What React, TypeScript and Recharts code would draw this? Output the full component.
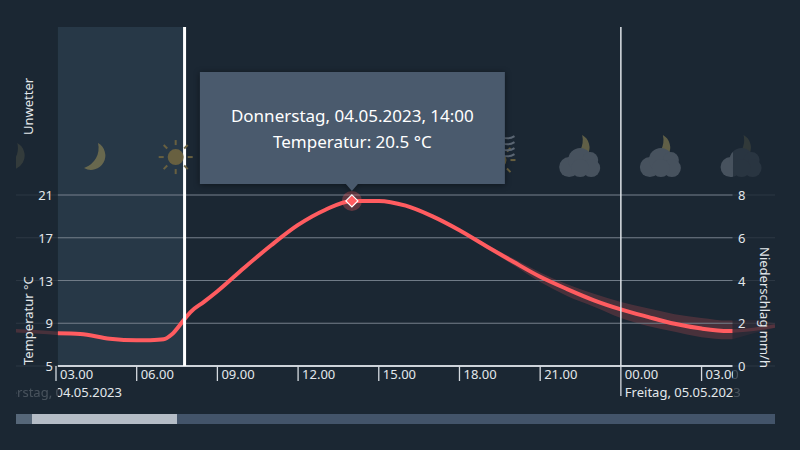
import React from 'react';
import { ComposedChart, Line, Area, Scatter, XAxis, YAxis, ReferenceLine, ReferenceArea, ReferenceDot } from 'recharts';

// hours since midnight of the 04.05.
const hours = [1.51, 2, 3, 3.07, 3.9, 5, 6, 6.5, 7, 7.3, 7.75, 8, 8.5, 9, 10, 11, 12, 13, 14, 15, 16, 17, 18, 19, 20, 21, 22, 23, 24, 25, 26, 27, 28, 28.15, 29, 29.73];
const temperature = [8.3, 8.25, 8.07, 8.06, 8.0, 7.55, 7.4, 7.42, 7.5, 7.95, 9.3, 10.05, 11, 12, 14.2, 16.3, 18.2, 19.6, 20.45, 20.45, 20, 19, 17.7, 16.2, 14.75, 13.35, 12.2, 11.15, 10.3, 9.6, 8.95, 8.5, 8.27, 8.27, 8.45, 8.75];
const bandHigh = [null, null, null, null, null, null, null, null, null, null, null, null, null, null, null, null, null, null, null, null, 20, 19.05, 17.8, 16.4, 15.05, 13.75, 12.65, 11.75, 11, 10.4, 9.85, 9.5, 9.25, 9.25, 9.3, 9.0];
const bandLow = [null, null, null, null, null, null, null, null, null, null, null, null, null, null, null, null, null, null, null, null, 20, 18.95, 17.6, 16, 14.45, 12.85, 11.55, 10.55, 9.5, 8.75, 8.2, 7.7, 7.5, 7.5, 8.1, 8.55];
// no precipitation in this window
const rain = [0, 0, 0, 0, 0, 0, 0, 0, 0, 0, 0, 0, 0, 0, 0, 0, 0, 0, 0, 0, 0, 0, 0, 0, 0, 0, 0, 0, 0, 0, 0, 0, 0, 0, 0, 0];

const hourTicks = [0, 3, 6, 9, 12, 15, 18, 21, 24, 27];
const dateLabels: Record<number, string> = { 0: 'Donnerstag, 04.05.2023', 24: 'Freitag, 05.05.2023' };
const tempTicks = [5, 9, 13, 17, 21];
const rainTicks = [0, 2, 4, 6, 8];

const iconHours = [1.45, 4.45, 7.45, 10.45, 13.45, 16.45, 19.45, 22.45, 25.45, 28.45];
const iconKinds = ['moon', 'moon', 'sun', 'sun', 'sun', 'fog', 'fog', 'cloudMoon', 'cloudMoon', 'cloudMoon'];
const iconLevel = 24.55;

const viewStart = 3.07;
const viewEnd = 28.15;
const nowHour = 7.78;
const midnight = 24;
const pickedHour = 14;
const pickedTemp = 20.45;

const BG = '#1b2733';
const RED = '#ff5c60';
const FONT = '"Noto Sans", sans-serif';

const inView = (h: number) => h >= viewStart && h <= viewEnd;
const outView = (h: number) => h <= viewStart || h >= viewEnd;

const chartData = hours.map((h, i) => {
  const band = bandLow[i] === null ? null : [bandLow[i], bandHigh[i]];
  return {
    hour: h,
    rain: rain[i],
    temp: inView(h) ? temperature[i] : null,
    sideTemp: outView(h) ? temperature[i] : null,
    band: inView(h) ? band : null,
    sideBand: outView(h) ? band : null,
  };
});

const iconData = iconHours.map((h, i) => ({ hour: h, level: iconLevel, kind: iconKinds[i] }));

const moonPath = (x: number, y: number, s: number) =>
  `M${x + 2 * s},${y - 14 * s} A${14 * s} ${14 * s} 0 1 1 ${x - 12 * s},${y + 11 * s} A${21 * s} ${21 * s} 0 0 0 ${x + 2 * s},${y - 14 * s} Z`;

const SunGlyph = ({ x, y }: { x: number; y: number }) => (
  <g stroke="#6c6340" strokeWidth={2} fill="#6c6340">
    <circle cx={x} cy={y} r={8} stroke="none" />
    {[0, 45, 90, 135, 180, 225, 270, 315].map((a) => {
      const rad = (a * Math.PI) / 180;
      return <line key={a} x1={x + 12 * Math.cos(rad)} y1={y + 12 * Math.sin(rad)} x2={x + 17 * Math.cos(rad)} y2={y + 17 * Math.sin(rad)} />;
    })}
  </g>
);

const Glyph = ({ kind, x, y }: { kind: string; x: number; y: number }) => {
  if (kind === 'moon') return <path d={moonPath(x + 1, y, 1)} fill="#6c6a4f" />;
  if (kind === 'sun') return <SunGlyph x={x} y={y} />;
  if (kind === 'fog') {
    return (
      <g>
        <SunGlyph x={x} y={y + 3} />
        {[-20, -14, -8, -2].map((d) => (
          <path key={d} d={`M${x + 4},${y + d} q6,3 12,-1`} stroke="#5f6a77" strokeWidth={2} fill="none" />
        ))}
      </g>
    );
  }
  return (
    <g>
      <path d={moonPath(x + 1, y - 8, 1)} fill="#646349" />
      <g fill="#4a5561">
        <circle cx={x - 10} cy={y + 10} r={10} />
        <circle cx={x + 1} cy={y + 3} r={12} />
        <circle cx={x + 11} cy={y + 3} r={8} />
        <circle cx={x + 12} cy={y + 11} r={9} />
        <circle cx={x + 1} cy={y + 11} r={9} />
      </g>
    </g>
  );
};

const WeatherIcon = (props: any) => {
  const { cx, cy, payload } = props;
  return (
    <g>
      <g clipPath="url(#mainClip)" opacity={0.95}>
        <Glyph kind={payload.kind} x={cx} y={cy} />
      </g>
      <g clipPath="url(#sideClip)" opacity={0.3}>
        <Glyph kind={payload.kind} x={cx} y={cy} />
      </g>
    </g>
  );
};

const HourTick = (props: any) => {
  const { x, y, payload } = props;
  const h: number = payload.value;
  const label = `${String(h % 24).padStart(2, '0')}.00`;
  const date = dateLabels[h];
  const texts = (
    <g fill="#e3e7eb" fontFamily={FONT} fontSize={13}>
      <text x={x + 4} y={y + 13}>{label}</text>
      {date && <text x={x + (h === 0 ? 1 : 4)} y={y + 31}>{date}</text>}
    </g>
  );
  return (
    <g>
      <line x1={x} y1={y} x2={x} y2={y + (date ? 30 : 15)} stroke="#d5dae0" strokeWidth={1.3} />
      <g clipPath="url(#mainClip)">{texts}</g>
      <g clipPath="url(#sideClip)" opacity={0.22}>{texts}</g>
    </g>
  );
};

const TempTick = (props: any) => (
  <text x={53} y={props.y + 5} textAnchor="end" fill="#e3e7eb" fontFamily={FONT} fontSize={13}>{props.payload.value}</text>
);

const RainTick = (props: any) => (
  <text x={738} y={props.y + 5} fill="#e3e7eb" fontFamily={FONT} fontSize={13}>{props.payload.value}</text>
);

const PickedPoint = (props: any) => {
  const { cx, cy } = props;
  return (
    <g>
      <circle cx={cx} cy={cy} r={10} fill={RED} fillOpacity={0.3} />
      <path d={`M${cx},${cy - 6} L${cx + 6},${cy} L${cx},${cy + 6} L${cx - 6},${cy} Z`} fill={RED} stroke="#ffffff" strokeWidth={1.2} />
      <g style={{ filter: 'drop-shadow(0 1px 3px rgba(0,0,0,0.45))' }}>
        <path
          d={`M${cx - 152},${cy - 129} h305 v112 h-147 l-6,7 l-6,-7 h-146 Z`}
          fill="#4a5a6d"
        />
      </g>
      <g fill="#ffffff" fontFamily={FONT} fontSize={17} textAnchor="middle">
        <text x={cx + 0.5} y={cy - 79}>Donnerstag, 04.05.2023, 14:00</text>
        <text x={cx + 0.5} y={cy - 53}>Temperatur: 20.5 °C</text>
      </g>
    </g>
  );
};

const TEMP_TOP = 36.72;
const RAIN_TOP = 15.86;

export default function App() {
  return (
    <div style={{ position: 'absolute', left: 0, top: 0, width: 800, height: 450, background: BG, overflow: 'hidden' }}>
      <ComposedChart
        width={800}
        height={450}
        data={chartData}
        margin={{ top: 27, right: 24, bottom: 54, left: 15 }}
        style={{ position: 'absolute', left: 0, top: 0 }}
      >
        <defs>
          <clipPath id="mainClip">
            <rect x={58} y={0} width={675} height={450} />
          </clipPath>
          <clipPath id="sideClip">
            <rect x={16} y={0} width={42} height={450} />
            <rect x={733} y={0} width={42} height={450} />
          </clipPath>
        </defs>

        <XAxis
          dataKey="hour"
          type="number"
          domain={[1.513, 29.73]}
          allowDataOverflow
          ticks={hourTicks}
          interval={0}
          height={30}
          tickSize={0}
          tickMargin={0}
          axisLine={false}
          tickLine={false}
          tick={<HourTick />}
        />
        <YAxis yAxisId="temp" type="number" domain={[5, TEMP_TOP]} ticks={tempTicks} width={1} axisLine={false} tickLine={false} interval={0} tick={<TempTick />} />
        <YAxis yAxisId="rain" orientation="right" type="number" domain={[0, RAIN_TOP]} ticks={rainTicks} width={1} axisLine={false} tickLine={false} interval={0} tick={<RainTick />} />

        <ReferenceArea yAxisId="temp" x1={viewStart} x2={nowHour} y1={5} y2={TEMP_TOP} fill="#273847" fillOpacity={1} stroke="none" />

        {tempTicks.map((t) => (
          <ReferenceLine key={`side${t}`} yAxisId="temp" y={t} stroke="#ffffff" strokeOpacity={0.08} />
        ))}
        {tempTicks.slice(1).map((t) => (
          <ReferenceLine key={`grid${t}`} yAxisId="temp" segment={[{ x: viewStart, y: t }, { x: viewEnd, y: t }]} stroke="#707b87" />
        ))}

        <Scatter yAxisId="temp" data={iconData} dataKey="level" shape={<WeatherIcon />} isAnimationActive={false} />

        <Line yAxisId="rain" dataKey="rain" stroke="none" dot={false} activeDot={false} isAnimationActive={false} />
        <Area yAxisId="temp" dataKey="band" type="monotone" stroke="none" fill={RED} fillOpacity={0.2} dot={false} activeDot={false} isAnimationActive={false} />
        <Area yAxisId="temp" dataKey="sideBand" type="monotone" stroke="none" fill={RED} fillOpacity={0.07} dot={false} activeDot={false} isAnimationActive={false} />
        <Line yAxisId="temp" dataKey="sideTemp" type="monotone" stroke={RED} strokeOpacity={0.2} strokeWidth={3.5} dot={false} activeDot={false} isAnimationActive={false} />
        <Line yAxisId="temp" dataKey="temp" type="monotone" stroke={RED} strokeWidth={4} dot={false} activeDot={false} isAnimationActive={false} />

        <ReferenceLine yAxisId="temp" segment={[{ x: viewStart, y: 5 }, { x: viewEnd, y: 5 }]} stroke="#cdd3da" strokeWidth={2} />
        <ReferenceLine yAxisId="temp" x={nowHour} stroke="#ffffff" strokeWidth={3} />
        <ReferenceLine yAxisId="temp" x={midnight} stroke="#dfe3e8" strokeWidth={1.5} />

        <ReferenceDot yAxisId="temp" x={pickedHour} y={pickedTemp} shape={<PickedPoint />} />
      </ComposedChart>

      <svg width={800} height={450} style={{ position: 'absolute', left: 0, top: 0, pointerEvents: 'none' }}>
        <g fill="#e3e7eb" fontFamily={FONT} fontSize={13}>
          <text transform="translate(33,135) rotate(-90)">Unwetter</text>
          <text transform="translate(33,365) rotate(-90)">Temperatur °C</text>
          <text transform="translate(760,247) rotate(90)">Niederschlag mm/h</text>
        </g>
      </svg>

      {/* scrollbar below the chart */}
      <div style={{ position: 'absolute', left: 16, top: 414, width: 759, height: 10, background: '#43546a' }} />
      <div style={{ position: 'absolute', left: 16, top: 414, width: 16, height: 10, background: '#566779' }} />
      <div style={{ position: 'absolute', left: 32, top: 414, width: 145, height: 10, background: '#b4bcc6' }} />
    </div>
  );
}
